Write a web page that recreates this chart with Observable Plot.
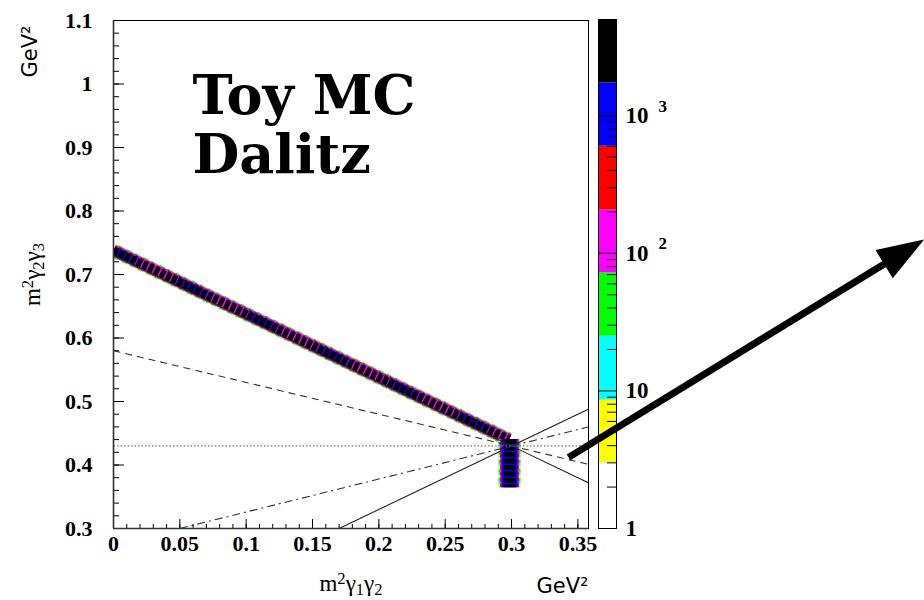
<!DOCTYPE html>
<html><head><meta charset="utf-8">
<script src="https://cdn.jsdelivr.net/npm/d3@7"></script>
<script src="https://cdn.jsdelivr.net/npm/@observablehq/plot@0.6"></script>
<style>
body{margin:0;background:#fff;}
#wrap{position:relative;width:924px;height:600px;overflow:hidden;background:#fff;}
#wrap svg{position:absolute;left:0;top:0;}
</style></head><body><div id="wrap"></div>
<script>
// ---- axis ticks ----
const xMajor = [0, 0.05, 0.1, 0.15, 0.2, 0.25, 0.3, 0.35];
const xMajorLabels = ["0", "0.05", "0.1", "0.15", "0.2", "0.25", "0.3", "0.35"];
const yMajor = [0.3, 0.4, 0.5, 0.6, 0.7, 0.8, 0.9, 1.0, 1.1];
const yMajorLabels = ["0.3", "0.4", "0.5", "0.6", "0.7", "0.8", "0.9", "1", "1.1"];
const xMinorStep = 0.01, yMinorStep = 0.02;

// ---- kinematic guide lines (two end points each) ----
const lineStyles = ["solid", "dashed", "dotted", "dashdot", "solid"];
const lineX1 = [0, 0, 0, 0.05, 0.17];
const lineY1 = [0.73, 0.58, 0.43, 0.30, 0.30];
const lineX2 = [0.358, 0.358, 0.358, 0.358, 0.358];
const lineY2 = [0.372, 0.401, 0.43, 0.46, 0.488];

// ---- toy MC populated regions ----
const bandX = [0, 0.298];
const bandY = [0.738, 0.44];
const stubX = [0.2985, 0.2985];
const stubY = [0.441, 0.365];

// ---- colour palette (z, log) ----
const levelEdges = [1, 3, 8.6, 25, 72, 206, 600, 1730, 5000];
const levelColors = ["#ffffff", "#ffff00", "#00ffff", "#00ff00", "#ff00ff", "#ff0000", "#0000ff", "#000000"];
const zMajor = [1, 10, 100, 1000];
const zMajorBase = ["1", "10", "10", "10"];
const zMajorExp = ["", "", "2", "3"];

// ---- arrow ----
const arrowX = [0.343, 0.611];
const arrowY = [0.412, 0.755];

// ================= layout =================
const W = 924, H = 600;
const mL = 113, mR = 336, mT = 20, mB = 72;
const fw = W - mL - mR, fh = H - mT - mB;
const xDom = [0, 0.358], yDom = [0.3, 1.1];
const serif = "'Liberation Serif', 'Times New Roman', serif";
const lab = {fontFamily: serif, fontWeight: "bold", fontSize: 22, fill: "black"};

const yMinor = d3.range(0, Math.round((yDom[1] - yDom[0]) / yMinorStep) + 1).map(i => +(yDom[0] + i * yMinorStep).toFixed(3));
const xMinor = d3.range(0, 36).map(i => +(i * xMinorStep).toFixed(3));

const lines = lineX1.map((x1, i) => ({x1, y1: lineY1[i], x2: lineX2[i], y2: lineY2[i], style: lineStyles[i]}));
const dashFor = {solid: null, dashed: "7,5", dotted: "1.5,2", dashdot: "8,4,2,4"};
const colFor = {solid: "#222", dashed: "#333", dotted: "#777", dashdot: "#333"};

const band = bandX.map((x, i) => ({x, y: bandY[i]}));
const stub = stubX.map((x, i) => ({x, y: stubY[i]}));
// layered stroke styles imitating the histogram's colour fringes: [width, colour, dash, offset]
const bandLayers = [
  [14, "#ffff00", "3,6", 0], [14, "#00ffff", "3,6", 3], [14, "#00ff00", "3,6", 6],
  [12, "#ff00ff", "3,3", 0], [12, "#ff0000", "3,3", 3],
  [10, "#0000ff", "3,3", 1.5], [10, "#ff00ff", "3,3", 4.5],
  [8.5, "#000000", "5,1.5", 0]
];
const stubLayers = [
  [22, "#ffff00", "3,6", 0], [22, "#00ffff", "3,6", 3], [22, "#00ff00", "3,6", 6],
  [19, "#ff00ff", "3,3", 0], [19, "#ff0000", "3,3", 3],
  [16, "#0000ff", null, 0], [12, "#000000", "5,1.5", 0]
];

// arrow geometry (pixel direction only used for head rotation)
const kx = fw / (xDom[1] - xDom[0]), ky = fh / (yDom[1] - yDom[0]);
const dxp = (arrowX[1] - arrowX[0]) * kx, dyp = -(arrowY[1] - arrowY[0]) * ky;
const headAngle = Math.atan2(dxp, -dyp) * 180 / Math.PI;
const frac = 1 - 42 / Math.hypot(dxp, dyp);
const shaft = [{x1: arrowX[0], y1: arrowY[0], x2: arrowX[0] + (arrowX[1] - arrowX[0]) * frac, y2: arrowY[0] + (arrowY[1] - arrowY[0]) * frac}];
const headSymbol = {draw(ctx) { ctx.moveTo(0, 0); ctx.lineTo(-16.5, 47); ctx.lineTo(16.5, 47); ctx.closePath(); }};

const marks = [];
for (const [w, c, dash, off] of bandLayers) marks.push(Plot.line(band, {x: "x", y: "y", stroke: c, strokeWidth: w, strokeLinecap: "butt", strokeDasharray: dash, strokeDashoffset: off, clip: true}));
for (const [w, c, dash, off] of stubLayers) marks.push(Plot.line(stub, {x: "x", y: "y", stroke: c, strokeWidth: w, strokeLinecap: "butt", strokeDasharray: dash, strokeDashoffset: off, clip: true}));
for (const s of ["solid", "dashed", "dotted", "dashdot"]) {
  marks.push(Plot.link(lines.filter(d => d.style === s), {x1: "x1", y1: "y1", x2: "x2", y2: "y2", stroke: colFor[s], strokeWidth: s === "dotted" ? 1.2 : 1.1, strokeDasharray: dashFor[s], clip: true}));
}
// ticks (inward)
marks.push(Plot.tickY(yMinor, {y: d => d, stroke: "black", insetRight: fw - 6}));
marks.push(Plot.tickY(yMajor, {y: d => d, stroke: "black", insetRight: fw - 11}));
marks.push(Plot.tickX(xMinor, {x: d => d, stroke: "black", insetTop: fh - 4}));
marks.push(Plot.tickX(xMajor, {x: d => d, stroke: "black", insetTop: fh - 9}));
marks.push(Plot.frame({stroke: "black", strokeWidth: 1}));
marks.push(Plot.ruleX([0], {stroke: "#333", strokeWidth: 1.6}));
marks.push(Plot.ruleY([0.3], {stroke: "#333", strokeWidth: 1.6}));
// tick labels
marks.push(Plot.text(yMajor, {y: d => d, text: (d, i) => yMajorLabels[i], frameAnchor: "left", dx: -21, textAnchor: "end", lineAnchor: "middle", ...lab}));
marks.push(Plot.text(xMajor, {x: d => d, text: (d, i) => xMajorLabels[i], frameAnchor: "bottom", dy: 7, lineAnchor: "top", ...lab}));
// axis titles
const titleY = "m\u00B2\u03B3\u2082\u03B3\u2083", titleX = "m\u00B2\u03B3\u2081\u03B3\u2082";
marks.push(Plot.text([titleY], {frameAnchor: "left", dx: -74, rotate: -90, lineAnchor: "bottom", textAnchor: "middle", fontFamily: serif, fontSize: 23, fill: "black"}));
marks.push(Plot.text(["GeV\u00B2"], {frameAnchor: "top-left", dx: -77, dy: 31, rotate: -90, lineAnchor: "bottom", textAnchor: "middle", fontFamily: "'DejaVu Sans', sans-serif", fontSize: 21, fill: "black"}));
marks.push(Plot.text([titleX], {frameAnchor: "bottom", dx: 0, dy: 62, lineAnchor: "bottom", textAnchor: "middle", fontFamily: serif, fontSize: 23, fill: "black"}));
marks.push(Plot.text(["GeV\u00B2"], {frameAnchor: "bottom-right", dx: 0, dy: 64, lineAnchor: "bottom", textAnchor: "end", fontFamily: "'DejaVu Sans', sans-serif", fontSize: 21, fill: "black"}));
// big title
marks.push(Plot.text(["Toy MC\nDalitz"], {frameAnchor: "top-left", dx: 79, dy: 52, lineAnchor: "top", textAnchor: "start", lineHeight: 1.09, fontFamily: "'DejaVu Serif', serif", fontWeight: "bold", fontSize: 54, fill: "black"}));
// arrow
marks.push(Plot.link(shaft, {x1: "x1", y1: "y1", x2: "x2", y2: "y2", stroke: "black", strokeWidth: 7, strokeLinecap: "butt"}));
marks.push(Plot.dot([{x: arrowX[1], y: arrowY[1]}], {x: "x", y: "y", symbol: headSymbol, r: 10, rotate: headAngle, fill: "black", stroke: "none"}));

// ---- colour bar ----
const cbL = 598, cbR = 616, cbT = 19, cbB = 528;
const cbw = cbR - cbL;
const bins = levelColors.map((c, i) => ({lo: levelEdges[i], hi: levelEdges[i + 1], color: c}));
const zMinor = [];
for (const dec of [1, 10, 100, 1000]) for (let k = 2; k <= 9; k++) { const v = k * dec; if (v <= levelEdges[levelEdges.length - 1]) zMinor.push(v); }
const cbar = Plot.plot({
  width: W, height: H,
  marginLeft: cbL, marginRight: W - cbR, marginTop: cbT, marginBottom: H - cbB,
  y: {type: "log", domain: [levelEdges[0], levelEdges[levelEdges.length - 1]], axis: null},
  color: {type: "identity"},
  style: {background: "transparent", overflow: "visible"},
  marks: [
    Plot.rect(bins, {y1: "lo", y2: "hi", fill: "color"}),
    Plot.tickY(zMinor, {y: d => d, stroke: "black", insetLeft: cbw - 9}),
    Plot.tickY(zMajor, {y: d => d, stroke: "black"}),
    Plot.frame({stroke: "black", strokeWidth: 1}),
    Plot.text(zMajor, {y: d => d, text: (d, i) => zMajorBase[i], frameAnchor: "right", dx: 9, textAnchor: "start", lineAnchor: "middle", ...lab, fontSize: 23}),
    Plot.text(zMajor, {y: d => d, text: (d, i) => zMajorExp[i], frameAnchor: "right", dx: 42, dy: -4, textAnchor: "start", lineAnchor: "bottom", fontFamily: serif, fontWeight: "bold", fontSize: 17, fill: "black"})
  ]
});

const main = Plot.plot({
  width: W, height: H,
  marginLeft: mL, marginRight: mR, marginTop: mT, marginBottom: mB,
  x: {domain: xDom, axis: null},
  y: {domain: yDom, axis: null},
  style: {background: "transparent", overflow: "visible"},
  marks
});

// render sub/superscripts of the axis titles as real tspans
const richTitles = {
  [titleY]: [["m", null], ["2", "super"], ["\u03B3", null], ["2", "sub"], ["\u03B3", null], ["3", "sub"]],
  [titleX]: [["m", null], ["2", "super"], ["\u03B3", null], ["1", "sub"], ["\u03B3", null], ["2", "sub"]]
};
d3.select(main).selectAll("text").each(function () {
  const parts = richTitles[this.textContent];
  if (!parts) return;
  const t = d3.select(this);
  t.text(null);
  for (const [s, shift] of parts) {
    const sp = t.append("tspan").text(s);
    if (shift) sp.attr("baseline-shift", shift === "super" ? "40%" : "-25%").attr("font-size", "72%");
  }
});

const wrap = document.getElementById("wrap");
wrap.appendChild(cbar);
wrap.appendChild(main);
</script></body></html>
